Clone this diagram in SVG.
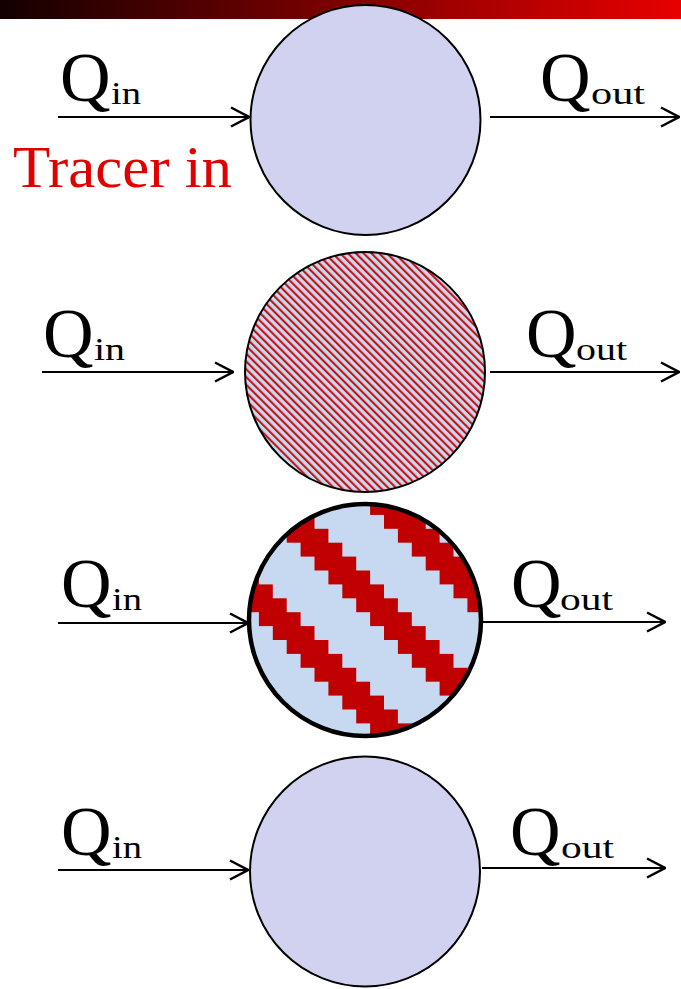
<svg xmlns="http://www.w3.org/2000/svg" width="681" height="989" viewBox="0 0 681 989">
<style>
.c{stroke:#000;stroke-width:2}
.q{font-family:"Liberation Serif",serif;font-size:70px;fill:#000}
.s{font-family:"Liberation Serif",serif;font-size:32px;fill:#000}
.a{fill:none;stroke:#000;stroke-width:2.2;marker-end:url(#ah)}
</style>
<defs>
<linearGradient id="bar" x1="0" y1="0" x2="1" y2="0">
<stop offset="0" stop-color="#140000"/>
<stop offset="1" stop-color="#e80000"/>
</linearGradient>
<marker id="ah" viewBox="0 0 20 22" refX="19" refY="11" markerWidth="20" markerHeight="22" markerUnits="userSpaceOnUse" orient="auto">
<path d="M1,1.5 L19,11 L1,20.5" fill="none" stroke="#000" stroke-width="2.5"/>
</marker>
<pattern id="fine" patternUnits="userSpaceOnUse" width="5.5" height="5.5" patternTransform="rotate(-45)">
<rect width="5.5" height="5.5" fill="#c6d9f1"/>
<rect width="2.1" height="5.5" fill="#c81010"/>
</pattern>
<pattern id="wide" patternUnits="userSpaceOnUse" x="0" y="0" width="8" height="8" patternTransform="translate(245,501) scale(13.9)">
<rect width="8" height="8" fill="#c6d9f1"/>
<path fill="#c00000" d="M1,0h3v1h-3z M2,1h3v1h-3z M3,2h3v1h-3z M4,3h3v1h-3z M5,4h3v1h-3z M6,5h2v1h-2z M0,5h1v1h-1z M7,6h1v1h-1z M0,6h2v1h-2z M0,7h3v1h-3z" shape-rendering="crispEdges"/>
</pattern>
</defs>
<rect x="0" y="0" width="681" height="19" fill="url(#bar)"/>

<g id="node1">
<circle class="c" cx="365.5" cy="120" r="115" fill="#d0d2ef"/>
</g>
<g id="node2">
<circle class="c" cx="365" cy="372" r="120" fill="url(#fine)"/>
</g>
<g id="node3">
<circle cx="365" cy="620" r="116" fill="url(#wide)" stroke="#000" stroke-width="4.5"/>
</g>
<g id="node4">
<circle class="c" cx="365" cy="871.5" r="115" fill="#d0d2ef"/>
</g>

<g id="connectors">
<path class="a" d="M58,117 H249"/>
<path class="a" d="M490,117 H679"/>
<path class="a" d="M42,372 H233"/>
<path class="a" d="M490,372 H679"/>
<path class="a" d="M58,623 H248"/>
<path class="a" d="M482,622 H665"/>
<path class="a" d="M58,870 H248"/>
<path class="a" d="M482,868 H665"/>
</g>

<g id="labels">
<text class="q" x="60" y="101">Q</text><text class="s" x="111" y="104" textLength="30" lengthAdjust="spacingAndGlyphs">in</text>
<text class="q" x="540" y="101">Q</text><text class="s" x="591" y="104" textLength="54" lengthAdjust="spacingAndGlyphs">out</text>
<text x="13" y="187" font-family="Liberation Serif, serif" font-size="60" fill="#e00000" textLength="219" lengthAdjust="spacingAndGlyphs">Tracer in</text>

<text class="q" x="43" y="357">Q</text><text class="s" x="94" y="360" textLength="31" lengthAdjust="spacingAndGlyphs">in</text>
<text class="q" x="526" y="357">Q</text><text class="s" x="576" y="360" textLength="51" lengthAdjust="spacingAndGlyphs">out</text>

<text class="q" x="61" y="607">Q</text><text class="s" x="112" y="610" textLength="30" lengthAdjust="spacingAndGlyphs">in</text>
<text class="q" x="511" y="607">Q</text><text class="s" x="560" y="610" textLength="53" lengthAdjust="spacingAndGlyphs">out</text>

<text class="q" x="61" y="855">Q</text><text class="s" x="112" y="858" textLength="30" lengthAdjust="spacingAndGlyphs">in</text>
<text class="q" x="510" y="855">Q</text><text class="s" x="561" y="858" textLength="53" lengthAdjust="spacingAndGlyphs">out</text>
</g>
</svg>
